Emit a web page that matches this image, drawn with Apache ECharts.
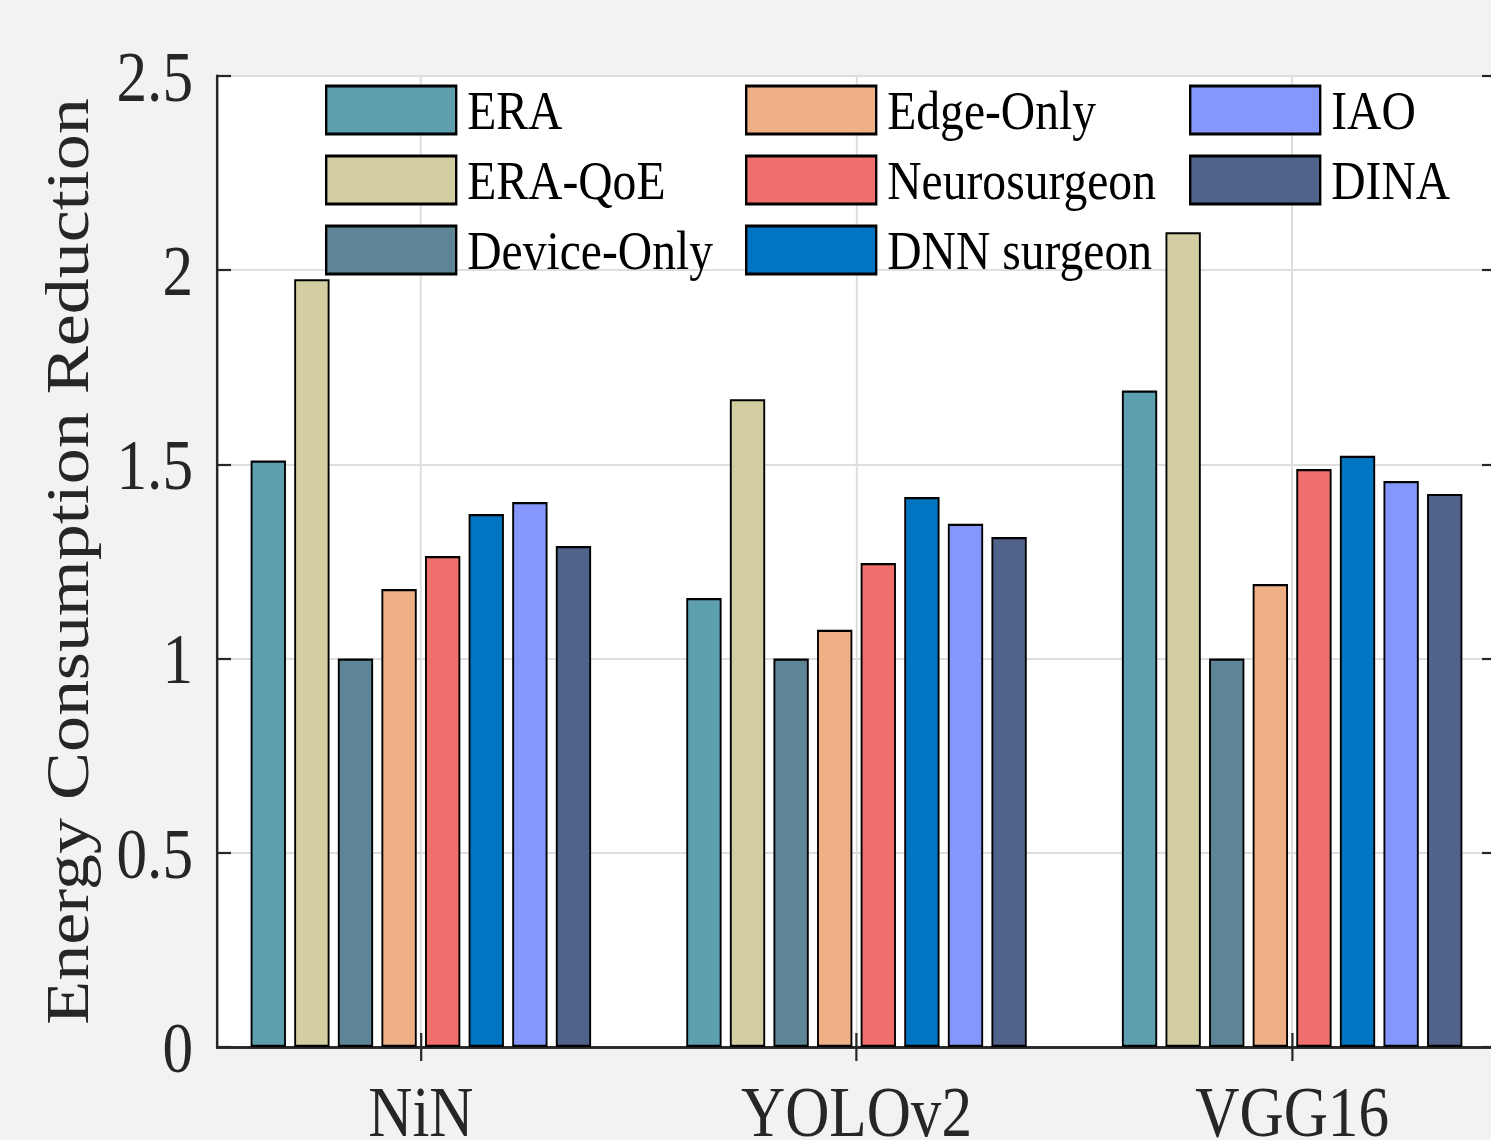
<!DOCTYPE html>
<html>
<head>
<meta charset="utf-8">
<script src="https://cdn.jsdelivr.net/npm/echarts@6/dist/echarts.min.js"></script>
<style>
html,body{margin:0;padding:0;background:#f2f2f2;overflow:hidden;width:1491px;height:1140px;}
#main{width:1754px;height:1140px;transform:scaleX(0.85);transform-origin:0 0;}
</style>
</head>
<body>
<div id="main"></div>
<script>
const categories = ['NiN', 'YOLOv2', 'VGG16'];
const seriesNames = ['ERA', 'ERA-QoE', 'Device-Only', 'Edge-Only', 'Neurosurgeon', 'DNN surgeon', 'IAO', 'DINA'];
const ERA = [1.510, 1.156, 1.690];
const ERA_QoE = [1.977, 1.668, 2.098];
const DeviceOnly = [1.000, 1.000, 1.000];
const EdgeOnly = [1.179, 1.074, 1.192];
const Neurosurgeon = [1.264, 1.246, 1.488];
const DNNsurgeon = [1.372, 1.416, 1.522];
const IAO = [1.403, 1.347, 1.457];
const DINA = [1.290, 1.313, 1.424];
const yTicks = [0, 0.5, 1, 1.5, 2, 2.5];

const seriesValues = [ERA, ERA_QoE, DeviceOnly, EdgeOnly, Neurosurgeon, DNNsurgeon, IAO, DINA];
const colors = ['#5d9fae', '#d2cea2', '#5d8595', '#eeb084', '#ef6f6d', '#0174c2', '#8597fb', '#50638b'];

const FONT = '"Liberation Serif", "Times New Roman", serif';
const SX = 0.85; // horizontal squeeze of the figure
const px = v => v / SX;

const catPos = categories.map((c, i) => i + 1);

const series = seriesNames.map((name, k) => ({
  name: name,
  type: 'bar',
  xAxisIndex: 0,
  yAxisIndex: 0,
  data: catPos.map((x, i) => [x, seriesValues[k][i]]),
  barWidth: px(35.3),
  barGap: '23.5%',
  itemStyle: { color: colors[k], borderColor: '#000', borderWidth: 2.2 },
  emphasis: { disabled: true }
}));

const legendCommon = {
  orient: 'vertical',
  top: 82,
  padding: 0,
  itemGap: 14,
  itemWidth: px(130),
  itemHeight: 48,
  icon: 'rect',
  selectedMode: false,
  itemStyle: { borderColor: '#000', borderWidth: 2.8 },
  textStyle: { fontFamily: FONT, fontSize: 56, color: '#000', padding: [0, 0, 0, 8] }
};

const option = {
  animation: false,
  backgroundColor: '#f2f2f2',
  color: colors,
  grid: {
    left: px(217),
    top: 76,
    width: px(1279),
    height: 971,
    outerBoundsMode: 'none',
    containLabel: false,
    show: true,
    backgroundColor: '#ffffff',
    borderWidth: 0
  },
  legend: [
    Object.assign({}, legendCommon, { left: px(325), data: seriesNames.slice(0, 3) }),
    Object.assign({}, legendCommon, { left: px(745), data: seriesNames.slice(3, 6) }),
    Object.assign({}, legendCommon, { left: px(1189), data: seriesNames.slice(6, 8) })
  ],
  xAxis: [
    {
      type: 'value',
      position: 'bottom',
      min: 0.532,
      max: 3.468,
      axisLine: { show: true, lineStyle: { color: '#262626', width: 2.5 } },
      axisTick: { show: true, inside: true, length: 14, customValues: catPos, lineStyle: { color: '#262626', width: px(2.2) } },
      axisLabel: {
        customValues: catPos,
        formatter: v => categories[Math.round(v) - 1] || '',
        fontFamily: FONT, fontSize: 72, color: '#262626', margin: 28
      },
      splitLine: { show: true, lineStyle: { color: '#dedede', width: px(2) } }
    },
    {
      type: 'value',
      position: 'top',
      min: 0.532,
      max: 3.468,
      axisLine: { show: true, lineStyle: { color: '#262626', width: 2.5 } },
      axisTick: { show: true, inside: true, length: 14, customValues: catPos, lineStyle: { color: '#262626', width: px(2.2) } },
      axisLabel: { show: false },
      splitLine: { show: false }
    }
  ],
  yAxis: [
    {
      type: 'value',
      position: 'left',
      min: 0,
      max: 2.5,
      interval: 0.5,
      name: 'Energy Consumption Reduction',
      nameLocation: 'middle',
      nameGap: 140,
      nameTextStyle: { fontFamily: FONT, fontSize: 72, color: '#262626' },
      axisLine: { show: true, lineStyle: { color: '#262626', width: px(2.5) } },
      axisTick: { show: true, inside: true, length: px(14), lineStyle: { color: '#262626', width: 2.2 } },
      axisLabel: { fontFamily: FONT, fontSize: 72, color: '#262626', margin: px(24) },
      splitLine: { show: true, lineStyle: { color: '#dedede', width: 2 } }
    },
    {
      type: 'value',
      position: 'right',
      min: 0,
      max: 2.5,
      interval: 0.5,
      axisLine: { show: true, lineStyle: { color: '#262626', width: px(2.5) } },
      axisTick: { show: true, inside: true, length: px(14), lineStyle: { color: '#262626', width: 2.2 } },
      axisLabel: { show: false },
      splitLine: { show: false }
    }
  ],
  series: series
};

const chart = echarts.init(document.getElementById('main'), null, { renderer: 'svg' });
chart.setOption(option);
</script>
</body>
</html>
